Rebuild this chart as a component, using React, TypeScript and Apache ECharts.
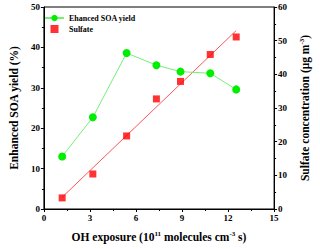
import React, { useEffect, useRef } from "react";
import * as echarts from "echarts";

const xVals = [1.19, 3.19, 5.39, 7.33, 8.9, 10.84, 12.53];
const soaYield = [13.0, 22.7, 38.6, 35.6, 34.0, 33.6, 29.6];
const sulfate = [3.3, 10.4, 21.7, 32.7, 37.9, 45.9, 51.1];
const fitX = [1.19, 12.53];
const fitY = [3.5, 53.0];

const FONT = '"Liberation Serif", "Times New Roman", serif';

export default function App() {
  const ref = useRef<HTMLDivElement>(null);
  useEffect(() => {
    if (!ref.current) return;
    const chart = echarts.init(ref.current, null, { renderer: "svg" });
    const axisCommon = {
      axisLine: { show: true, lineStyle: { color: "#000", width: 1 } },
      axisTick: { show: true, inside: false, length: 3, lineStyle: { color: "#000" } },
      minorTick: { show: true, splitNumber: 2, length: 2, lineStyle: { color: "#000" } },
      splitLine: { show: false },
      axisLabel: { color: "#000", fontFamily: FONT, fontWeight: "bold", fontSize: 9, margin: 4 },
    };
    const supRich = {
      sup: { fontSize: 7, fontFamily: FONT, fontWeight: "bold", color: "#000", verticalAlign: "top", lineHeight: 14 },
    };
    chart.setOption({
      animation: false,
      grid: { left: 30.7, right: 34, top: 7, bottom: 37, show: true, borderColor: "#000", borderWidth: 1 },
      legend: {
        left: 39,
        top: 9,
        orient: "vertical",
        itemGap: 3,
        itemWidth: 19,
        itemHeight: 8,
        textStyle: { fontFamily: FONT, fontWeight: "bold", fontSize: 8, color: "#000" },
        data: [
          { name: "Ehanced SOA yield" },
          { name: "Sulfate", icon: "path://M0 0H10V10H0Z", itemStyle: { color: "#ff0000" } },
        ],
      },
      xAxis: {
        type: "value",
        min: 0,
        max: 15,
        interval: 3,
        ...axisCommon,
        name: "OH exposure (10{sup|11} molecules cm{sup|-3} s)",
        nameLocation: "middle",
        nameGap: 21,
        nameTextStyle: { fontFamily: FONT, fontWeight: "bold", fontSize: 11.5, color: "#000", lineHeight: 14, rich: supRich },
      },
      yAxis: [
        {
          type: "value",
          min: 0,
          max: 50,
          interval: 10,
          position: "left",
          ...axisCommon,
          name: "Enhanced SOA yield (%)",
          nameLocation: "middle",
          nameGap: 18,
          nameTextStyle: { fontFamily: FONT, fontWeight: "bold", fontSize: 11.5, color: "#000" },
        },
        {
          type: "value",
          min: 0,
          max: 60,
          interval: 10,
          position: "right",
          ...axisCommon,
          name: "Sulfate concentration (μg m{sup|-3})",
          nameLocation: "middle",
          nameGap: 22,
          nameTextStyle: { fontFamily: FONT, fontWeight: "bold", fontSize: 11.5, color: "#000", lineHeight: 14, rich: supRich },
        },
      ],
      series: [
        {
          name: "Fit",
          type: "line",
          yAxisIndex: 1,
          data: fitX.map((x, i) => [x, fitY[i]]),
          showSymbol: false,
          symbol: "none",
          lineStyle: { color: "#ff5555", width: 1 },
          z: 1,
        },
        {
          name: "Ehanced SOA yield",
          type: "line",
          yAxisIndex: 0,
          data: xVals.map((x, i) => [x, soaYield[i]]),
          symbol: "circle",
          symbolSize: 8,
          itemStyle: { color: "#00ee00" },
          lineStyle: { color: "#77ee77", width: 1 },
          z: 3,
        },
        {
          name: "Sulfate",
          type: "scatter",
          yAxisIndex: 1,
          data: xVals.map((x, i) => [x, sulfate[i]]),
          symbol: "rect",
          symbolSize: 7,
          itemStyle: { color: "#ff0000" },
          z: 2,
        },
      ],
    });
    return () => chart.dispose();
  }, []);
  return <div ref={ref} style={{ width: 320, height: 249, position: "absolute", left: 0, top: 0 }} />;
}
